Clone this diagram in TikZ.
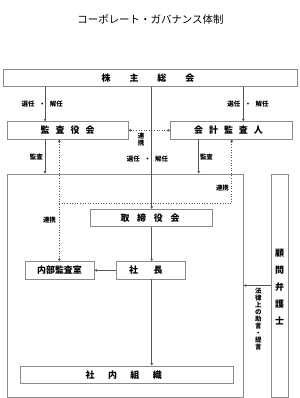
\documentclass[tikz,border=0pt]{standalone}
\usepackage{fontspec}
\newfontfamily\jp{Noto Sans CJK JP}
\usetikzlibrary{arrows.meta}
\definecolor{boxgray}{HTML}{8A8A8A}
\definecolor{linegray}{HTML}{555555}
\begin{document}
\begin{tikzpicture}[x=1bp,y=-1bp,
  box/.style={draw=boxgray, line width=0.8bp, inner sep=0, font=\jp\bfseries\fontsize{9}{10}\selectfont},
  lab/.style={font=\jp\bfseries\fontsize{6.5}{7}\selectfont, inner sep=0},
  arr/.style={draw=linegray, line width=0.6bp, -{Triangle[length=2.5bp,width=2.6bp]}},
  dots/.style={draw=linegray, line width=0.6bp, dotted}]
\useasboundingbox (0,0) rectangle (300,398);
% title
\node[inner sep=0, font=\jp\fontsize{10.5}{12}\selectfont] (title) at (150.5,19.5) {コーポレート・ガバナンス体制};
% boxes
\node[box, minimum width=294.4bp, minimum height=17bp] (kab) at (150.5,77.7) {株\kern19bp 主\kern19bp 総\kern19bp 会\kern5bp};
\node[box, minimum width=120.7bp, minimum height=17.3bp] (kan) at (67.65,130.35) {監\kern6bp 査\kern6bp 役\kern6bp 会};
\node[box, minimum width=121.6bp, minimum height=17.3bp] (kai) at (231.5,130.35) {会\kern6bp 計\kern6bp 監\kern6bp 査\kern6bp 人\kern6bp};
\node[box, minimum width=236bp, minimum height=223bp] (big) at (125.3,285.5) {};
\node[box, minimum width=16.6bp, minimum height=223bp] (kom) at (280,285.5) {};
\node[box, minimum width=121.6bp, minimum height=17.4bp] (tor) at (151.5,218) {取\kern7.7bp 締\kern7.7bp 役\kern7.7bp 会\kern3bp};
\node[box, minimum width=69bp, minimum height=17.3bp] (nai) at (59.5,270.35) {内部監査室};
\node[box, minimum width=68.3bp, minimum height=17.3bp] (sha) at (150.85,270.35) {社\kern15.7bp 長\kern10bp};
\node[box, minimum width=212.6bp, minimum height=17.3bp] (sos) at (127,374.65) {社\kern13.4bp 内\kern13.4bp 組\kern13.4bp 織\kern6.6bp};
% vertical text in 顧問弁護士
\node[font=\jp\bfseries\fontsize{9}{17}\selectfont, align=center, inner sep=0] (komt) at (279.5,287) {顧\\問\\弁\\護\\士};
% x positions
\coordinate (xa) at (45,0);
\coordinate (xb) at (243.3,0);
\coordinate (xc) at (151.7,0);
\coordinate (xd) at (59.3,0);
\coordinate (xe) at (231.7,0);
\coordinate (xf) at (198.7,0);
\coordinate (yd) at (0,203.3);
% connectors
\draw[arr] (kab.south -| xa) -- (kan.north -| xa);
\draw[arr] (kab.south -| xb) -- (kai.north -| xb);
\draw[arr] (kab.south -| xc) -- (tor.north -| xc);
\draw[arr] (kan.south -| xa) -- (big.north -| xa);
\draw[arr] (kai.south -| xf) -- (big.north -| xf);
\draw[dots, {Triangle[length=2.5bp,width=2.6bp]}-{Triangle[length=2.5bp,width=2.6bp]}] (kan.east) -- (kai.west);
\draw[dots, {Triangle[length=2.5bp,width=2.6bp]}-{Triangle[length=2.5bp,width=2.6bp]}] (kan.south -| xd) -- (nai.north -| xd);
\draw[dots, -{Triangle[length=2.5bp,width=2.6bp]}] (xd |- yd) -- (xe |- yd) -- (kai.south -| xe);
\draw[arr] (tor.south -| xc) -- (sha.north -| xc);
\draw[arr] (sha.west) -- (nai.east);
\draw[arr] (sha.south -| xc) -- (sos.north -| xc);
\draw[arr] (kom.west) -- (big.east);
% labels
\node[lab] (l1) at (42.3,104.3) {選任\kern4.4bp・\kern4.4bp解任};
\node[lab] (l2) at (248,104.3) {選任\kern4.4bp・\kern4.4bp解任};
\node[lab] (l3) at (147.5,159.3) {選任\kern4.4bp・\kern4.4bp解任};
\node[lab] (l4) at (36.3,156.7) {監査};
\node[lab] (l5) at (206.5,156.7) {監査};
\node[lab, font=\jp\bfseries\fontsize{6.5}{7.7}\selectfont, align=center] (l6) at (141,139.5) {連\\携};
\node[lab] (l7) at (222.5,188.3) {連携};
\node[lab] (l8) at (49.5,220) {連携};
\node[lab, font=\jp\bfseries\fontsize{6.5}{7}\selectfont, align=center] (l9) at (258.3,319) {法\\律\\上\\の\\助\\言\\・\\提\\言};
\end{tikzpicture}
\end{document}
